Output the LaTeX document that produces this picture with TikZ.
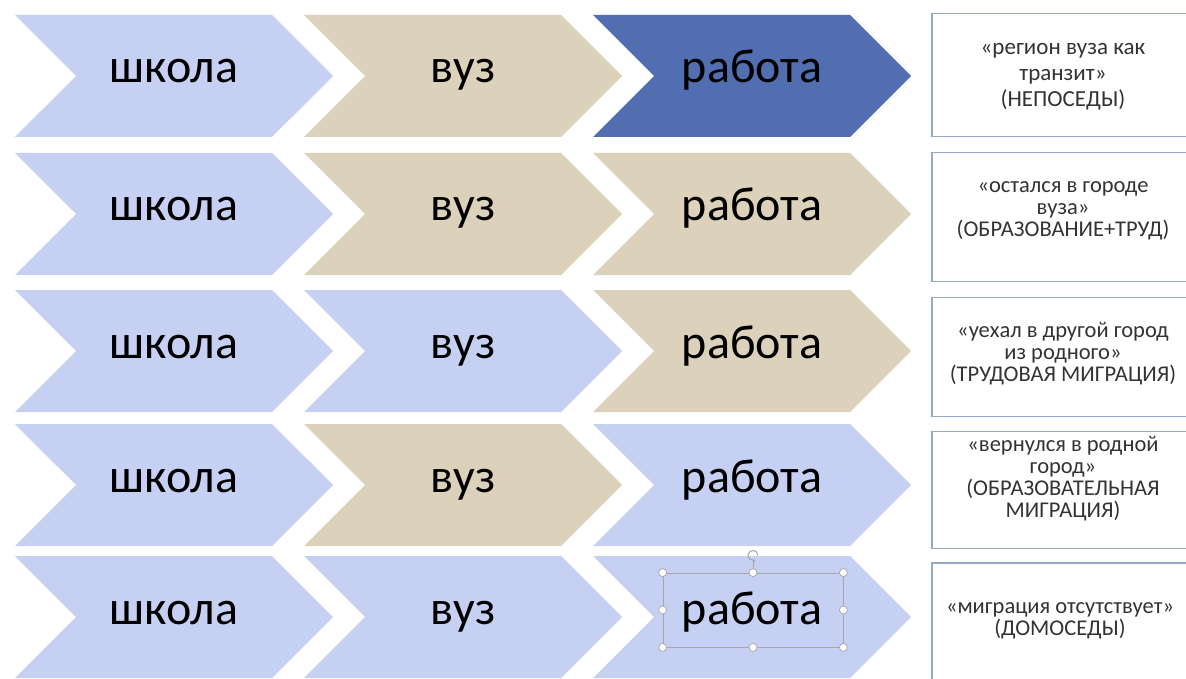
\documentclass[tikz,border=0pt]{standalone}
\usepackage{fontspec}
\setmainfont{Carlito}
\usetikzlibrary{shapes.symbols, arrows.meta, positioning}
\definecolor{tissue}{RGB}{198,208,242}
\definecolor{canvas}{RGB}{220,209,186}
\definecolor{denim}{RGB}{80,110,176}
\definecolor{frame}{RGB}{150,168,198}
\tikzset{
    chev/.style={signal, signal from=west, signal to=east, draw=none, minimum width=318pt, minimum height=122pt, inner sep=0pt, text height=22pt, text depth=8pt, font=\fontsize{48}{52}\selectfont},
    tis/.style={chev, fill=tissue},
    can/.style={chev, fill=canvas},
    den/.style={chev, fill=denim},
    note/.style={draw=frame, line width=1.4pt, minimum width=262pt},
    lbl/.style={align=center, text=black!80, inner sep=0pt, font=\fontsize{22.5}{22}\selectfont},
    handle/.style={circle, draw=gray!70, fill=white, line width=0.7pt, inner sep=0pt, minimum size=8pt}
}

\begin{document}
\begin{tikzpicture}[x=1pt, y=-1pt]
    \clip (0,0) rectangle (1186,679);
    \fill[white] (0,0) rectangle (1186,679);

    % row 1
    \node (s1) [tis] at (174,76) {школа};
    \node (v1) [can] at (463,76) {вуз};
    \node (r1) [den] at (752,76) {работа};
    \node (n1) [note, minimum height=123pt] at (1063,75) {};
    \node (t1) [lbl, font=\fontsize{23}{26}\selectfont] at ([yshift=-2pt]n1.center) {«регион вуза как\\транзит»\\(НЕПОСЕДЫ)};

    % row 2
    \node (s2) [tis] at (174,214) {школа};
    \node (v2) [can] at (463,214) {вуз};
    \node (r2) [can] at (752,214) {работа};
    \node (n2) [note, minimum height=129pt] at (1063,217) {};
    \node (t2) [lbl] at ([yshift=6pt]n2.center) {«остался в городе\\вуза»\\(ОБРАЗОВАНИЕ+ТРУД)};

    % row 3
    \node (s3) [tis] at (174,351) {школа};
    \node (v3) [tis] at (463,351) {вуз};
    \node (r3) [can] at (752,351) {работа};
    \node (n3) [note, minimum height=119pt] at (1063,357) {};
    \node (t3) [lbl] at ([yshift=3pt]n3.center) {«уехал в другой город\\из родного»\\(ТРУДОВАЯ МИГРАЦИЯ)};

    % row 4
    \node (s4) [tis] at (174,485) {школа};
    \node (v4) [can] at (463,485) {вуз};
    \node (r4) [tis] at (752,485) {работа};
    \node (n4) [note, minimum height=117pt] at (1063,490) {};
    \node (t4) [lbl] at ([yshift=11pt]n4.center) {«вернулся в родной\\город»\\(ОБРАЗОВАТЕЛЬНАЯ\\МИГРАЦИЯ)};

    % row 5
    \node (s5) [tis] at (174,617) {школа};
    \node (v5) [tis] at (463,617) {вуз};
    \node (r5) [tis] at (752,617) {работа};
    \node (n5) [note, minimum height=130pt] at (1063,628) {};
    \node (t5) [lbl] at (1060,621) {«миграция отсутствует»\\(ДОМОСЕДЫ)};

    % selection frame round the last label
    \node (sel) [draw=gray!70, line width=0.8pt, minimum width=180pt, minimum height=74pt] at (753,610) {};
    \node (rot) [above=12pt of sel.north, circle, inner sep=0pt, minimum size=10pt] {};
    \draw [gray!70, line width=0.8pt] (sel.north) -- (rot.south);
    \draw [gray!70, line width=1pt, -{Stealth[length=3pt, width=3.5pt]}] (rot.center) ++(5pt,0) arc[start angle=0, end angle=300, radius=5pt];
    \node [handle] at (sel.north west) {};
    \node [handle] at (sel.north) {};
    \node [handle] at (sel.north east) {};
    \node [handle] at (sel.east) {};
    \node [handle] at (sel.south east) {};
    \node [handle] at (sel.south) {};
    \node [handle] at (sel.south west) {};
    \node [handle] at (sel.west) {};
\end{tikzpicture}
\end{document}
